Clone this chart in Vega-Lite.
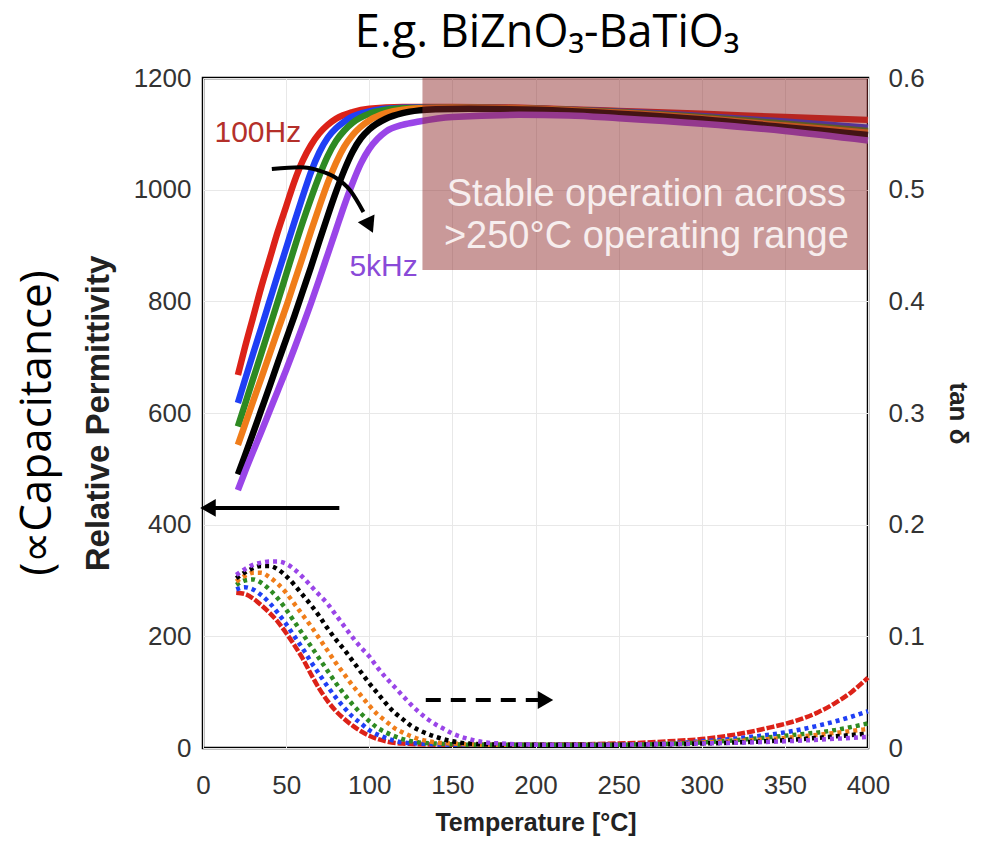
{
  "$schema": "https://vega.github.io/schema/vega-lite/v6.json",
  "width": 665,
  "height": 670,
  "autosize": {"type": "none"},
  "padding": {"left": 203, "top": 78, "right": 119, "bottom": 101},
  "background": "white",
  "config": {
    "font": "Liberation Sans",
    "view": {"stroke": "black", "strokeWidth": 2.5},
    "axis": {
      "grid": true, "gridColor": "#e8e8e8", "domain": false, "ticks": false, "labelFlush": false, "labelOverlap": false,
      "labelFont": "Liberation Sans", "labelFontSize": 26, "labelColor": "#333",
      "titleFont": "Liberation Sans", "titleFontWeight": "bold", "titleColor": "#222"
    }
  },
  "datasets": {
    "perm": [
      {"f":"100Hz","T":21,"v":668},{"f":"100Hz","T":25,"v":715},{"f":"100Hz","T":30,"v":770},{"f":"100Hz","T":35,"v":825},{"f":"100Hz","T":40,"v":875},{"f":"100Hz","T":45,"v":925},{"f":"100Hz","T":50,"v":970},{"f":"100Hz","T":55,"v":1015},{"f":"100Hz","T":60,"v":1052},{"f":"100Hz","T":65,"v":1080},{"f":"100Hz","T":70,"v":1101},{"f":"100Hz","T":75,"v":1116},{"f":"100Hz","T":80,"v":1127},{"f":"100Hz","T":90,"v":1139},{"f":"100Hz","T":100,"v":1145},{"f":"100Hz","T":120,"v":1148},{"f":"100Hz","T":150,"v":1148},{"f":"100Hz","T":200,"v":1146},{"f":"100Hz","T":250,"v":1141},{"f":"100Hz","T":300,"v":1136},{"f":"100Hz","T":350,"v":1130},{"f":"100Hz","T":400,"v":1125},
      {"f":"200Hz","T":21,"v":618},{"f":"200Hz","T":25,"v":657},{"f":"200Hz","T":30,"v":705},{"f":"200Hz","T":35,"v":752},{"f":"200Hz","T":40,"v":800},{"f":"200Hz","T":45,"v":848},{"f":"200Hz","T":50,"v":895},{"f":"200Hz","T":55,"v":942},{"f":"200Hz","T":60,"v":988},{"f":"200Hz","T":65,"v":1032},{"f":"200Hz","T":70,"v":1067},{"f":"200Hz","T":75,"v":1093},{"f":"200Hz","T":80,"v":1110},{"f":"200Hz","T":85,"v":1122},{"f":"200Hz","T":90,"v":1131},{"f":"200Hz","T":100,"v":1140},{"f":"200Hz","T":110,"v":1145},{"f":"200Hz","T":130,"v":1147},{"f":"200Hz","T":150,"v":1147},{"f":"200Hz","T":200,"v":1145},{"f":"200Hz","T":250,"v":1140},{"f":"200Hz","T":300,"v":1132},{"f":"200Hz","T":350,"v":1122},{"f":"200Hz","T":400,"v":1111},
      {"f":"500Hz","T":21,"v":576},{"f":"500Hz","T":25,"v":613},{"f":"500Hz","T":30,"v":660},{"f":"500Hz","T":35,"v":706},{"f":"500Hz","T":40,"v":753},{"f":"500Hz","T":45,"v":800},{"f":"500Hz","T":50,"v":848},{"f":"500Hz","T":55,"v":896},{"f":"500Hz","T":60,"v":942},{"f":"500Hz","T":65,"v":985},{"f":"500Hz","T":70,"v":1025},{"f":"500Hz","T":75,"v":1060},{"f":"500Hz","T":80,"v":1087},{"f":"500Hz","T":85,"v":1106},{"f":"500Hz","T":90,"v":1120},{"f":"500Hz","T":100,"v":1136},{"f":"500Hz","T":110,"v":1143},{"f":"500Hz","T":120,"v":1146},{"f":"500Hz","T":150,"v":1147},{"f":"500Hz","T":200,"v":1145},{"f":"500Hz","T":250,"v":1139},{"f":"500Hz","T":300,"v":1130},{"f":"500Hz","T":350,"v":1118},{"f":"500Hz","T":400,"v":1105},
      {"f":"1kHz","T":21,"v":543},{"f":"1kHz","T":25,"v":577},{"f":"1kHz","T":30,"v":620},{"f":"1kHz","T":35,"v":662},{"f":"1kHz","T":40,"v":705},{"f":"1kHz","T":45,"v":748},{"f":"1kHz","T":50,"v":790},{"f":"1kHz","T":55,"v":835},{"f":"1kHz","T":60,"v":880},{"f":"1kHz","T":65,"v":926},{"f":"1kHz","T":70,"v":970},{"f":"1kHz","T":75,"v":1012},{"f":"1kHz","T":80,"v":1048},{"f":"1kHz","T":85,"v":1077},{"f":"1kHz","T":90,"v":1098},{"f":"1kHz","T":95,"v":1113},{"f":"1kHz","T":100,"v":1124},{"f":"1kHz","T":110,"v":1137},{"f":"1kHz","T":120,"v":1143},{"f":"1kHz","T":130,"v":1146},{"f":"1kHz","T":150,"v":1147},{"f":"1kHz","T":200,"v":1145},{"f":"1kHz","T":250,"v":1138},{"f":"1kHz","T":300,"v":1128},{"f":"1kHz","T":350,"v":1115},{"f":"1kHz","T":400,"v":1102},
      {"f":"2kHz","T":21,"v":490},{"f":"2kHz","T":25,"v":522},{"f":"2kHz","T":30,"v":563},{"f":"2kHz","T":35,"v":605},{"f":"2kHz","T":40,"v":647},{"f":"2kHz","T":45,"v":690},{"f":"2kHz","T":50,"v":732},{"f":"2kHz","T":55,"v":774},{"f":"2kHz","T":60,"v":818},{"f":"2kHz","T":65,"v":862},{"f":"2kHz","T":70,"v":908},{"f":"2kHz","T":75,"v":953},{"f":"2kHz","T":80,"v":996},{"f":"2kHz","T":85,"v":1035},{"f":"2kHz","T":90,"v":1068},{"f":"2kHz","T":95,"v":1092},{"f":"2kHz","T":100,"v":1108},{"f":"2kHz","T":110,"v":1127},{"f":"2kHz","T":120,"v":1137},{"f":"2kHz","T":130,"v":1142},{"f":"2kHz","T":140,"v":1144},{"f":"2kHz","T":160,"v":1145},{"f":"2kHz","T":200,"v":1143},{"f":"2kHz","T":250,"v":1136},{"f":"2kHz","T":300,"v":1126},{"f":"2kHz","T":350,"v":1112},{"f":"2kHz","T":400,"v":1098},
      {"f":"5kHz","T":21,"v":462},{"f":"5kHz","T":25,"v":493},{"f":"5kHz","T":30,"v":530},{"f":"5kHz","T":35,"v":566},{"f":"5kHz","T":40,"v":603},{"f":"5kHz","T":45,"v":640},{"f":"5kHz","T":50,"v":677},{"f":"5kHz","T":55,"v":716},{"f":"5kHz","T":60,"v":756},{"f":"5kHz","T":65,"v":797},{"f":"5kHz","T":70,"v":840},{"f":"5kHz","T":75,"v":884},{"f":"5kHz","T":80,"v":928},{"f":"5kHz","T":85,"v":972},{"f":"5kHz","T":90,"v":1012},{"f":"5kHz","T":95,"v":1047},{"f":"5kHz","T":100,"v":1073},{"f":"5kHz","T":105,"v":1091},{"f":"5kHz","T":110,"v":1104},{"f":"5kHz","T":120,"v":1116},{"f":"5kHz","T":130,"v":1122},{"f":"5kHz","T":150,"v":1130},{"f":"5kHz","T":190,"v":1134},{"f":"5kHz","T":220,"v":1133},{"f":"5kHz","T":250,"v":1128},{"f":"5kHz","T":300,"v":1118},{"f":"5kHz","T":350,"v":1105},{"f":"5kHz","T":400,"v":1088}
    ],
    "tan": [
      {"f":"100Hz","T":20,"tan":0.139},{"f":"100Hz","T":25,"tan":0.138},{"f":"100Hz","T":30,"tan":0.134},{"f":"100Hz","T":35,"tan":0.128},{"f":"100Hz","T":40,"tan":0.121},{"f":"100Hz","T":45,"tan":0.113},{"f":"100Hz","T":50,"tan":0.103},{"f":"100Hz","T":55,"tan":0.092},{"f":"100Hz","T":60,"tan":0.080},{"f":"100Hz","T":65,"tan":0.066},{"f":"100Hz","T":70,"tan":0.053},{"f":"100Hz","T":75,"tan":0.042},{"f":"100Hz","T":80,"tan":0.033},{"f":"100Hz","T":85,"tan":0.026},{"f":"100Hz","T":90,"tan":0.020},{"f":"100Hz","T":95,"tan":0.015},{"f":"100Hz","T":100,"tan":0.011},{"f":"100Hz","T":110,"tan":0.006},{"f":"100Hz","T":120,"tan":0.004},{"f":"100Hz","T":140,"tan":0.003},{"f":"100Hz","T":200,"tan":0.003},{"f":"100Hz","T":250,"tan":0.004},{"f":"100Hz","T":280,"tan":0.006},{"f":"100Hz","T":300,"tan":0.008},{"f":"100Hz","T":320,"tan":0.012},{"f":"100Hz","T":340,"tan":0.018},{"f":"100Hz","T":360,"tan":0.026},{"f":"100Hz","T":370,"tan":0.032},{"f":"100Hz","T":380,"tan":0.040},{"f":"100Hz","T":390,"tan":0.050},{"f":"100Hz","T":400,"tan":0.063},
      {"f":"200Hz","T":20,"tan":0.142},{"f":"200Hz","T":25,"tan":0.144},{"f":"200Hz","T":30,"tan":0.142},{"f":"200Hz","T":35,"tan":0.137},{"f":"200Hz","T":40,"tan":0.130},{"f":"200Hz","T":45,"tan":0.121},{"f":"200Hz","T":50,"tan":0.111},{"f":"200Hz","T":55,"tan":0.100},{"f":"200Hz","T":60,"tan":0.089},{"f":"200Hz","T":65,"tan":0.077},{"f":"200Hz","T":70,"tan":0.066},{"f":"200Hz","T":75,"tan":0.055},{"f":"200Hz","T":80,"tan":0.045},{"f":"200Hz","T":85,"tan":0.036},{"f":"200Hz","T":90,"tan":0.028},{"f":"200Hz","T":95,"tan":0.022},{"f":"200Hz","T":100,"tan":0.016},{"f":"200Hz","T":105,"tan":0.012},{"f":"200Hz","T":110,"tan":0.009},{"f":"200Hz","T":120,"tan":0.005},{"f":"200Hz","T":130,"tan":0.004},{"f":"200Hz","T":150,"tan":0.003},{"f":"200Hz","T":250,"tan":0.003},{"f":"200Hz","T":300,"tan":0.006},{"f":"200Hz","T":330,"tan":0.010},{"f":"200Hz","T":350,"tan":0.014},{"f":"200Hz","T":370,"tan":0.020},{"f":"200Hz","T":390,"tan":0.028},{"f":"200Hz","T":400,"tan":0.033},
      {"f":"500Hz","T":20,"tan":0.146},{"f":"500Hz","T":25,"tan":0.150},{"f":"500Hz","T":30,"tan":0.151},{"f":"500Hz","T":35,"tan":0.148},{"f":"500Hz","T":40,"tan":0.142},{"f":"500Hz","T":45,"tan":0.134},{"f":"500Hz","T":50,"tan":0.124},{"f":"500Hz","T":55,"tan":0.113},{"f":"500Hz","T":60,"tan":0.102},{"f":"500Hz","T":65,"tan":0.091},{"f":"500Hz","T":70,"tan":0.080},{"f":"500Hz","T":75,"tan":0.069},{"f":"500Hz","T":80,"tan":0.058},{"f":"500Hz","T":85,"tan":0.048},{"f":"500Hz","T":90,"tan":0.039},{"f":"500Hz","T":95,"tan":0.031},{"f":"500Hz","T":100,"tan":0.024},{"f":"500Hz","T":105,"tan":0.018},{"f":"500Hz","T":110,"tan":0.014},{"f":"500Hz","T":120,"tan":0.008},{"f":"500Hz","T":130,"tan":0.005},{"f":"500Hz","T":140,"tan":0.004},{"f":"500Hz","T":160,"tan":0.003},{"f":"500Hz","T":250,"tan":0.003},{"f":"500Hz","T":300,"tan":0.005},{"f":"500Hz","T":350,"tan":0.011},{"f":"500Hz","T":380,"tan":0.016},{"f":"500Hz","T":400,"tan":0.022},
      {"f":"1kHz","T":20,"tan":0.149},{"f":"1kHz","T":25,"tan":0.154},{"f":"1kHz","T":30,"tan":0.157},{"f":"1kHz","T":35,"tan":0.157},{"f":"1kHz","T":40,"tan":0.153},{"f":"1kHz","T":45,"tan":0.147},{"f":"1kHz","T":50,"tan":0.139},{"f":"1kHz","T":55,"tan":0.129},{"f":"1kHz","T":60,"tan":0.119},{"f":"1kHz","T":65,"tan":0.109},{"f":"1kHz","T":70,"tan":0.098},{"f":"1kHz","T":75,"tan":0.087},{"f":"1kHz","T":80,"tan":0.076},{"f":"1kHz","T":85,"tan":0.066},{"f":"1kHz","T":90,"tan":0.056},{"f":"1kHz","T":95,"tan":0.047},{"f":"1kHz","T":100,"tan":0.038},{"f":"1kHz","T":105,"tan":0.030},{"f":"1kHz","T":110,"tan":0.024},{"f":"1kHz","T":115,"tan":0.018},{"f":"1kHz","T":120,"tan":0.014},{"f":"1kHz","T":130,"tan":0.008},{"f":"1kHz","T":140,"tan":0.005},{"f":"1kHz","T":150,"tan":0.004},{"f":"1kHz","T":170,"tan":0.003},{"f":"1kHz","T":250,"tan":0.003},{"f":"1kHz","T":300,"tan":0.005},{"f":"1kHz","T":350,"tan":0.009},{"f":"1kHz","T":400,"tan":0.017},
      {"f":"2kHz","T":20,"tan":0.152},{"f":"2kHz","T":25,"tan":0.157},{"f":"2kHz","T":30,"tan":0.161},{"f":"2kHz","T":35,"tan":0.163},{"f":"2kHz","T":40,"tan":0.163},{"f":"2kHz","T":45,"tan":0.160},{"f":"2kHz","T":50,"tan":0.154},{"f":"2kHz","T":55,"tan":0.146},{"f":"2kHz","T":60,"tan":0.137},{"f":"2kHz","T":65,"tan":0.128},{"f":"2kHz","T":70,"tan":0.118},{"f":"2kHz","T":75,"tan":0.107},{"f":"2kHz","T":80,"tan":0.097},{"f":"2kHz","T":85,"tan":0.088},{"f":"2kHz","T":90,"tan":0.078},{"f":"2kHz","T":95,"tan":0.068},{"f":"2kHz","T":100,"tan":0.058},{"f":"2kHz","T":105,"tan":0.049},{"f":"2kHz","T":110,"tan":0.040},{"f":"2kHz","T":115,"tan":0.032},{"f":"2kHz","T":120,"tan":0.026},{"f":"2kHz","T":125,"tan":0.020},{"f":"2kHz","T":130,"tan":0.016},{"f":"2kHz","T":140,"tan":0.010},{"f":"2kHz","T":150,"tan":0.006},{"f":"2kHz","T":160,"tan":0.004},{"f":"2kHz","T":180,"tan":0.003},{"f":"2kHz","T":250,"tan":0.003},{"f":"2kHz","T":300,"tan":0.004},{"f":"2kHz","T":350,"tan":0.007},{"f":"2kHz","T":400,"tan":0.013},
      {"f":"5kHz","T":20,"tan":0.155},{"f":"5kHz","T":25,"tan":0.160},{"f":"5kHz","T":30,"tan":0.164},{"f":"5kHz","T":35,"tan":0.166},{"f":"5kHz","T":40,"tan":0.167},{"f":"5kHz","T":45,"tan":0.167},{"f":"5kHz","T":50,"tan":0.165},{"f":"5kHz","T":55,"tan":0.160},{"f":"5kHz","T":60,"tan":0.153},{"f":"5kHz","T":65,"tan":0.145},{"f":"5kHz","T":70,"tan":0.137},{"f":"5kHz","T":75,"tan":0.129},{"f":"5kHz","T":80,"tan":0.119},{"f":"5kHz","T":85,"tan":0.109},{"f":"5kHz","T":90,"tan":0.099},{"f":"5kHz","T":95,"tan":0.090},{"f":"5kHz","T":100,"tan":0.082},{"f":"5kHz","T":105,"tan":0.072},{"f":"5kHz","T":110,"tan":0.063},{"f":"5kHz","T":115,"tan":0.055},{"f":"5kHz","T":120,"tan":0.047},{"f":"5kHz","T":125,"tan":0.039},{"f":"5kHz","T":130,"tan":0.032},{"f":"5kHz","T":135,"tan":0.026},{"f":"5kHz","T":140,"tan":0.021},{"f":"5kHz","T":145,"tan":0.017},{"f":"5kHz","T":150,"tan":0.013},{"f":"5kHz","T":160,"tan":0.008},{"f":"5kHz","T":170,"tan":0.005},{"f":"5kHz","T":180,"tan":0.004},{"f":"5kHz","T":200,"tan":0.003},{"f":"5kHz","T":250,"tan":0.003},{"f":"5kHz","T":300,"tan":0.004},{"f":"5kHz","T":350,"tan":0.006},{"f":"5kHz","T":400,"tan":0.010}
    ]
  },
  "layer": [
    {
      "layer": [
        {
          "data": {"name": "perm"},
          "mark": {"type": "line", "strokeWidth": 6.5, "interpolate": "monotone"},
          "encoding": {
            "x": {"field": "T", "type": "quantitative", "scale": {"domain": [0, 400], "nice": false},
                  "axis": {"title": "Temperature [°C]", "values": [0,50,100,150,200,250,300,350,400], "labelPadding": 24, "titlePadding": 12, "titleFontSize": 25}},
            "y": {"field": "v", "type": "quantitative", "scale": {"domain": [0, 1200], "nice": false},
                  "axis": {"title": "Relative Permittivity", "values": [0,200,400,600,800,1000,1200], "format": "d", "labelPadding": 12, "titlePadding": 18, "titleFontSize": 33}},
            "color": {"field": "f", "type": "nominal", "legend": null,
                      "scale": {"domain": ["100Hz","200Hz","500Hz","1kHz","2kHz","5kHz"], "range": ["#dc2218","#1f3ff5","#2e8a22","#f07d1a","#000000","#9a45e8"]}}
          }
        },
        {
          "data": {"values": [{"T": 132, "T2": 400, "v": 856, "v2": 1200}]},
          "mark": {"type": "rect", "color": "#8e2a2a", "opacity": 0.48},
          "encoding": {
            "x": {"field": "T", "type": "quantitative"},
            "x2": {"field": "T2"},
            "y": {"field": "v", "type": "quantitative"},
            "y2": {"field": "v2"}
          }
        },
        {
          "data": {"values": [{"T": 266.7, "v": 991, "t": "Stable operation across"}, {"T": 266.7, "v": 916, "t": ">250°C operating range"}]},
          "mark": {"type": "text", "fontSize": 38, "color": "#f7eeee", "align": "center", "baseline": "middle"},
          "encoding": {
            "x": {"field": "T", "type": "quantitative"},
            "y": {"field": "v", "type": "quantitative"},
            "text": {"field": "t"}
          }
        },
        {
          "data": {"values": [{"T": 207, "v": 1255, "t": "E.g. BiZnO₃-BaTiO₃"}]},
          "mark": {"type": "text", "font": "Open Sans", "fontSize": 45, "color": "black", "align": "center", "baseline": "alphabetic"},
          "encoding": {
            "x": {"field": "T", "type": "quantitative"},
            "y": {"field": "v", "type": "quantitative"},
            "text": {"field": "t"}
          }
        },
        {
          "data": {"values": [{"T": 33, "v": 1102, "t": "100Hz"}]},
          "mark": {"type": "text", "fontSize": 30, "color": "#b4302a", "align": "center", "baseline": "middle"},
          "encoding": {
            "x": {"field": "T", "type": "quantitative"},
            "y": {"field": "v", "type": "quantitative"},
            "text": {"field": "t"}
          }
        },
        {
          "data": {"values": [{"T": 108.6, "v": 862, "t": "5kHz"}]},
          "mark": {"type": "text", "fontSize": 30, "color": "#8a4ad8", "align": "center", "baseline": "middle"},
          "encoding": {
            "x": {"field": "T", "type": "quantitative"},
            "y": {"field": "v", "type": "quantitative"},
            "text": {"field": "t"}
          }
        },
        {
          "data": {"values": [{"T": -99, "v": 582, "t": "(∝Capacitance)"}]},
          "mark": {"type": "text", "font": "Open Sans", "fontSize": 44, "color": "black", "angle": 270, "align": "center", "baseline": "middle"},
          "encoding": {
            "x": {"field": "T", "type": "quantitative"},
            "y": {"field": "v", "type": "quantitative"},
            "text": {"field": "t"}
          }
        },
        {
          "data": {"values": [{"T": 82, "v": 430}, {"T": 6, "v": 430}]},
          "mark": {"type": "line", "color": "black", "strokeWidth": 4},
          "encoding": {
            "x": {"field": "T", "type": "quantitative"},
            "y": {"field": "v", "type": "quantitative"}
          }
        },
        {
          "data": {"values": [{"T": 3, "v": 430}]},
          "mark": {"type": "point", "shape": "triangle-left", "filled": true, "color": "black", "size": 320, "opacity": 1},
          "encoding": {
            "x": {"field": "T", "type": "quantitative"},
            "y": {"field": "v", "type": "quantitative"}
          }
        },
        {
          "data": {"values": [{"T": 134, "v": 86}, {"T": 202, "v": 86}]},
          "mark": {"type": "line", "color": "black", "strokeWidth": 4, "strokeDash": [15, 10]},
          "encoding": {
            "x": {"field": "T", "type": "quantitative"},
            "y": {"field": "v", "type": "quantitative"}
          }
        },
        {
          "data": {"values": [{"T": 206, "v": 86}]},
          "mark": {"type": "point", "shape": "triangle-right", "filled": true, "color": "black", "size": 320, "opacity": 1},
          "encoding": {
            "x": {"field": "T", "type": "quantitative"},
            "y": {"field": "v", "type": "quantitative"}
          }
        },
        {
          "data": {"values": [{"T": 41.4, "v": 1037}, {"T": 58.5, "v": 1040}, {"T": 70, "v": 1034}, {"T": 78.4, "v": 1024}, {"T": 88.7, "v": 998}, {"T": 96.5, "v": 960}]},
          "mark": {"type": "line", "color": "black", "strokeWidth": 4, "interpolate": "monotone"},
          "encoding": {
            "x": {"field": "T", "type": "quantitative"},
            "y": {"field": "v", "type": "quantitative"}
          }
        },
        {
          "data": {"values": [{"T": 99.5, "v": 940}]},
          "mark": {"type": "point", "shape": "triangle", "angle": 155, "filled": true, "color": "black", "size": 340, "opacity": 1},
          "encoding": {
            "x": {"field": "T", "type": "quantitative"},
            "y": {"field": "v", "type": "quantitative"}
          }
        }
      ]
    },
    {
      "data": {"name": "tan"},
      "mark": {"type": "line", "strokeWidth": 4.5, "interpolate": "monotone"},
      "encoding": {
        "x": {"field": "T", "type": "quantitative"},
        "y": {"field": "tan", "type": "quantitative", "scale": {"domain": [0, 0.6], "nice": false},
              "axis": {"orient": "right", "title": "tan δ", "grid": false, "values": [0,0.1,0.2,0.3,0.4,0.5,0.6], "format": "~g", "labelPadding": 20, "titlePadding": 20, "titleFontSize": 26}},
        "color": {"field": "f", "type": "nominal", "legend": null,
                  "scale": {"domain": ["100Hz","200Hz","500Hz","1kHz","2kHz","5kHz"], "range": ["#dc2218","#1f3ff5","#2e8a22","#f07d1a","#000000","#9a45e8"]}},
        "strokeDash": {"field": "f", "type": "nominal", "legend": null,
                       "scale": {"domain": ["100Hz","200Hz","500Hz","1kHz","2kHz","5kHz"], "range": [[8,2],[4,4],[4,4],[4,4],[4,4],[4,4]]}}
      }
    }
  ],
  "resolve": {"scale": {"y": "independent"}}
}
